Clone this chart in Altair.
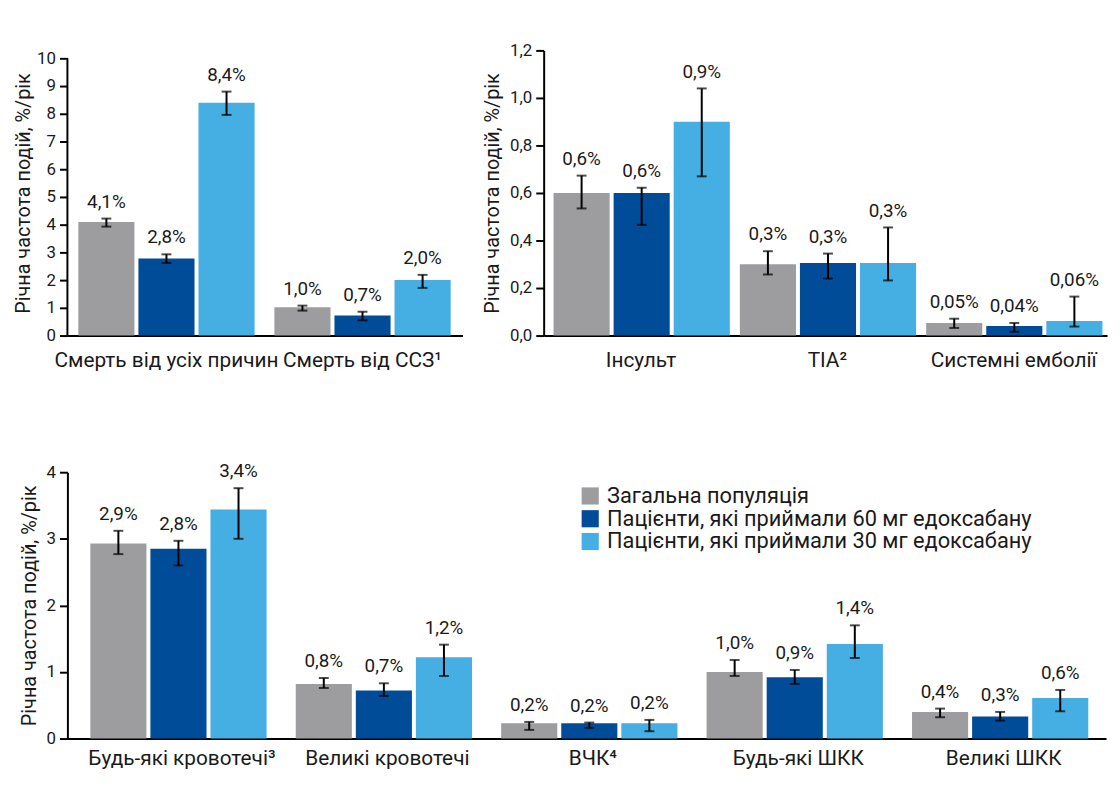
import altair as alt
import pandas as pd

series = [
    "Загальна популяція",
    "Пацієнти, які приймали 60 мг едоксабану",
    "Пацієнти, які приймали 30 мг едоксабану",
]
colors = ["#9D9D9F", "#004C99", "#45AEE2"]
y_title = "Річна частота подій, %/рік"

# Panel 1 (top left)
p1_categories = ["Смерть від усіх причин", "Смерть від ССЗ¹"]
p1_values = [[4.10, 2.78, 8.40], [1.02, 0.72, 2.00]]
p1_low = [[3.93, 2.62, 7.96], [0.90, 0.55, 1.72]]
p1_high = [[4.22, 2.93, 8.80], [1.08, 0.86, 2.19]]
p1_labels = [["4,1%", "2,8%", "8,4%"], ["1,0%", "0,7%", "2,0%"]]
p1_ticks = [0, 1, 2, 3, 4, 5, 6, 7, 8, 9, 10]

# Panel 2 (top right)
p2_categories = ["Інсульт", "TIA²", "Системні емболії"]
p2_values = [[0.600, 0.600, 0.900], [0.300, 0.305, 0.305], [0.053, 0.040, 0.061]]
p2_low = [[0.535, 0.466, 0.670], [0.257, 0.240, 0.232], [0.032, 0.016, 0.038]]
p2_high = [[0.673, 0.622, 1.040], [0.355, 0.345, 0.455], [0.071, 0.053, 0.164]]
p2_labels = [["0,6%", "0,6%", "0,9%"], ["0,3%", "0,3%", "0,3%"], ["0,05%", "0,04%", "0,06%"]]
p2_ticks = [0.0, 0.2, 0.4, 0.6, 0.8, 1.0, 1.2]

# Panel 3 (bottom)
p3_categories = ["Будь-які кровотечі³", "Великі кровотечі", "ВЧК⁴", "Будь-які ШКК", "Великі ШКК"]
p3_values = [[2.93, 2.85, 3.44], [0.82, 0.72, 1.22], [0.23, 0.23, 0.23], [1.00, 0.92, 1.42], [0.40, 0.33, 0.61]]
p3_low = [[2.77, 2.60, 3.00], [0.76, 0.64, 0.94], [0.13, 0.16, 0.11], [0.94, 0.82, 1.21], [0.32, 0.27, 0.41]]
p3_high = [[3.12, 2.97, 3.76], [0.91, 0.83, 1.41], [0.25, 0.24, 0.28], [1.18, 1.03, 1.70], [0.45, 0.40, 0.73]]
p3_labels = [["2,9%", "2,8%", "3,4%"], ["0,8%", "0,7%", "1,2%"], ["0,2%", "0,2%", "0,2%"],
             ["1,0%", "0,9%", "1,4%"], ["0,4%", "0,3%", "0,6%"]]
p3_ticks = [0, 1, 2, 3, 4]

FONT = "Roboto"
TXT = "#1a1a1a"


def table(categories, values, low, high, labels):
    rows = []
    for i, c in enumerate(categories):
        for j, s in enumerate(series):
            rows.append({"cat": c, "series": s, "value": values[i][j],
                         "low": low[i][j], "high": high[i][j], "label": labels[i][j]})
    return pd.DataFrame(rows)


def panel(categories, values, low, high, labels, ticks, domain_max, width, height,
          pad_in, pad_out, align, off_pad, label_expr, x_label_pad, title_pad,
          legend=False, axis_top=None):
    df = table(categories, values, low, high, labels)
    base = alt.Chart(df)
    x = alt.X("cat:N", sort=categories, title=None,
              scale=alt.Scale(paddingInner=pad_in, paddingOuter=pad_out, align=align),
              axis=alt.Axis(labelAngle=0, ticks=False, labelPadding=x_label_pad,
                            labelFontSize=21, labelLimit=400, labelFont=FONT,
                            labelColor=TXT, domainColor="black", domainWidth=2))
    xo = alt.XOffset("series:N", sort=series,
                     scale=alt.Scale(paddingInner=off_pad, paddingOuter=0))
    yscale = alt.Scale(domain=[0, domain_max], nice=False, zero=True)
    yaxis = alt.Axis(values=ticks, tickCount=len(ticks), labelExpr=label_expr, title=y_title,
                     domain=(axis_top is None), domainColor="black", domainWidth=2,
                     tickSize=8, tickWidth=2, tickColor="black", labelPadding=4,
                     labelFontSize=17, labelFont=FONT, labelColor=TXT, labelOverlap=False,
                     titlePadding=title_pad, titleFontSize=20, titleFont=FONT,
                     titleFontWeight="normal", titleColor=TXT, grid=False)
    if legend:
        leg = alt.Legend(orient="none", legendX=517, legendY=13, title=None,
                         symbolType="square", symbolSize=300, symbolStrokeWidth=0,
                         labelFontSize=22, labelColor=TXT, labelFont=FONT,
                         labelLimit=0, rowPadding=1, symbolOpacity=1, labelOffset=6)
    else:
        leg = None

    def Y(field):
        return alt.Y(field, scale=yscale, axis=yaxis, title=y_title)

    bars = base.mark_bar().encode(
        x=x, xOffset=xo, y=Y("value:Q"),
        color=alt.Color("series:N", scale=alt.Scale(domain=series, range=colors), legend=leg),
    )
    err = base.mark_rule(color="black", strokeWidth=2).encode(
        x=x, xOffset=xo, y=Y("low:Q"), y2="high:Q")
    cap_lo = base.mark_tick(color="black", thickness=2, size=10, orient="horizontal").encode(
        x=x, xOffset=xo, y=Y("low:Q"))
    cap_hi = base.mark_tick(color="black", thickness=2, size=10, orient="horizontal").encode(
        x=x, xOffset=xo, y=Y("high:Q"))
    txt = base.mark_text(baseline="bottom", dy=-7, fontSize=19, color=TXT, font=FONT).encode(
        x=x, xOffset=xo, y=Y("high:Q"), text="label:N")
    layers = [bars, err, cap_lo, cap_hi, txt]
    if axis_top is not None:
        axis_line = alt.Chart(pd.DataFrame({"a": [0]})).mark_rule(
            color="black", strokeWidth=2).encode(
            x=alt.value(0), y=alt.datum(0), y2=alt.datum(axis_top))
        layers.append(axis_line)
    return alt.layer(*layers).properties(width=width, height=height)


p1 = panel(p1_categories, p1_values, p1_low, p1_high, p1_labels, p1_ticks,
           10 * 288 / 280, 399, 288, 0.101, 0.058, 0.48, 0.066,
           "format(datum.value, 'd')", 14, 3, axis_top=10)
p2 = panel(p2_categories, p2_values, p2_low, p2_high, p2_labels, p2_ticks,
           1.2, 569, 288, 0.061, 0.0424, 0.625, 0.075,
           "replace(format(datum.value, '.1f'), '.', ',')", 14, 7)
p3 = panel(p3_categories, p3_values, p3_low, p3_high, p3_labels, p3_ticks,
           4, 1049, 269, 0.108, 0.082, 0.68, 0.10,
           "format(datum.value, 'd')", 9, 7, legend=True)

top = alt.hconcat(p1, p2, spacing=20).resolve_scale(color="independent")
chart = alt.vconcat(top, p3, spacing=93).resolve_scale(color="independent").resolve_legend(
    color="independent"
).properties(
    padding={"left": 5, "top": 30, "right": 5, "bottom": 5},
    background="white",
).configure_view(stroke=None)

chart.save("out.html", embed_options={"renderer": "svg", "actions": False})
